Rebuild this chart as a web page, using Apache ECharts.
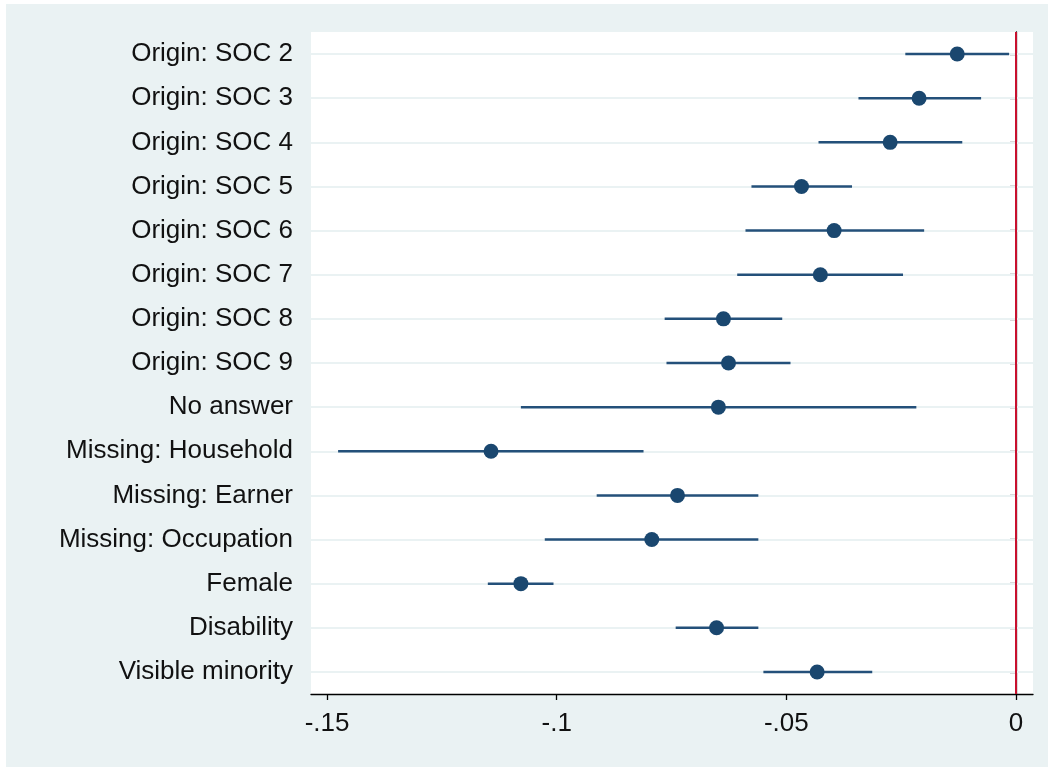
<!DOCTYPE html>
<html>
<head>
<meta charset="utf-8">
<script src="https://cdn.jsdelivr.net/npm/echarts@6/dist/echarts.min.js"></script>
<style>
html,body{margin:0;padding:0;background:#ffffff;}
#chart{width:1048px;height:769px;}
</style>
</head>
<body>
<div id="chart"></div>
<script>
var categories = ["Origin: SOC 2","Origin: SOC 3","Origin: SOC 4","Origin: SOC 5","Origin: SOC 6","Origin: SOC 7","Origin: SOC 8","Origin: SOC 9","No answer","Missing: Household","Missing: Earner","Missing: Occupation","Female","Disability","Visible minority"];
var coef  = [-0.0128,-0.0211,-0.0274,-0.0467,-0.0396,-0.0426,-0.0637,-0.0626,-0.0648,-0.1143,-0.0737,-0.0793,-0.1078,-0.0652,-0.0433];
var lower = [-0.0241,-0.0343,-0.0430,-0.0576,-0.0589,-0.0607,-0.0765,-0.0761,-0.1078,-0.1476,-0.0913,-0.1026,-0.1150,-0.0741,-0.0550];
var upper = [-0.0015,-0.0076,-0.0117,-0.0357,-0.0200,-0.0246,-0.0509,-0.0491,-0.0217,-0.0811,-0.0561,-0.0561,-0.1007,-0.0561,-0.0313];
var xTicks = [-0.15,-0.1,-0.05,0];

var FONT = '"Liberation Sans", Arial, sans-serif';
var NAVY = '#1A476F';

var chart = echarts.init(document.getElementById('chart'), null, {renderer:'canvas'});

var ciData = categories.map(function(c,i){ return [lower[i], upper[i], i]; });
var dotData = categories.map(function(c,i){ return [coef[i], c]; });

function fmt(v){
  if (v === 0) return '0';
  var s = String(Math.abs(v)).replace(/^0/, '');
  return (v < 0 ? '-' : '') + s;
}

chart.setOption({
  animation:false,
  backgroundColor:'#ffffff',
  graphic:[{
    type:'rect', z:-10, silent:true,
    shape:{x:6, y:4, width:1042, height:763},
    style:{fill:'#EAF2F3'}
  },{
    type:'rect', z:-9, silent:true,
    shape:{x:311, y:32, width:722, height:662},
    style:{fill:'#ffffff'}
  }],
  grid:{left:311, top:32, right:15, bottom:75, containLabel:false},
  xAxis:{
    type:'value', min:-0.1535, max:0.0037,
    axisLine:{show:true, onZero:false, lineStyle:{color:'#000', width:1.3}},
    axisTick:{show:true, length:6, customValues:xTicks, lineStyle:{color:'#000', width:1.3}},
    axisLabel:{customValues:xTicks, formatter:fmt, color:'#111', fontSize:26, fontFamily:FONT, margin:17},
    splitLine:{show:false}
  },
  yAxis:{
    type:'category', data:categories, inverse:true,
    axisLine:{show:true, lineStyle:{color:'#000', width:1.3}},
    axisTick:{show:true, alignWithLabel:true, length:6, lineStyle:{color:'#000', width:1.3}},
    axisLabel:{color:'#111', fontSize:26, fontFamily:FONT, margin:18, interval:0},
    splitLine:{show:false}
  },
  series:[
    {
      type:'scatter', data:[], z:1, silent:true,
      markLine:{
        silent:true, symbol:'none', animation:false, z:1,
        label:{show:false},
        lineStyle:{color:'#EAF2F3', width:2, type:'solid'},
        data:categories.map(function(c){ return {yAxis:c}; })
      }
    },
    {
      type:'custom', z:5, silent:true,
      data:ciData,
      encode:{x:[0,1], y:2},
      renderItem:function(params, api){
        var p1 = api.coord([api.value(0), api.value(2)]);
        var p2 = api.coord([api.value(1), api.value(2)]);
        return {type:'rect', z2:10,
                shape:{x:p1[0], y:p1[1]-1.25, width:p2[0]-p1[0], height:2.5},
                style:{fill:'#24507A'}};
      }
    },
    {
      type:'scatter', z:6, silent:true,
      data:dotData, symbol:'circle', symbolSize:15,
      itemStyle:{color:NAVY, opacity:1},
      markLine:{
        silent:true, symbol:'none', animation:false,
        label:{show:false},
        lineStyle:{color:'#C8102E', width:2, type:'solid'},
        data:[{xAxis:0}]
      }
    }
  ]
});
</script>
</body>
</html>
